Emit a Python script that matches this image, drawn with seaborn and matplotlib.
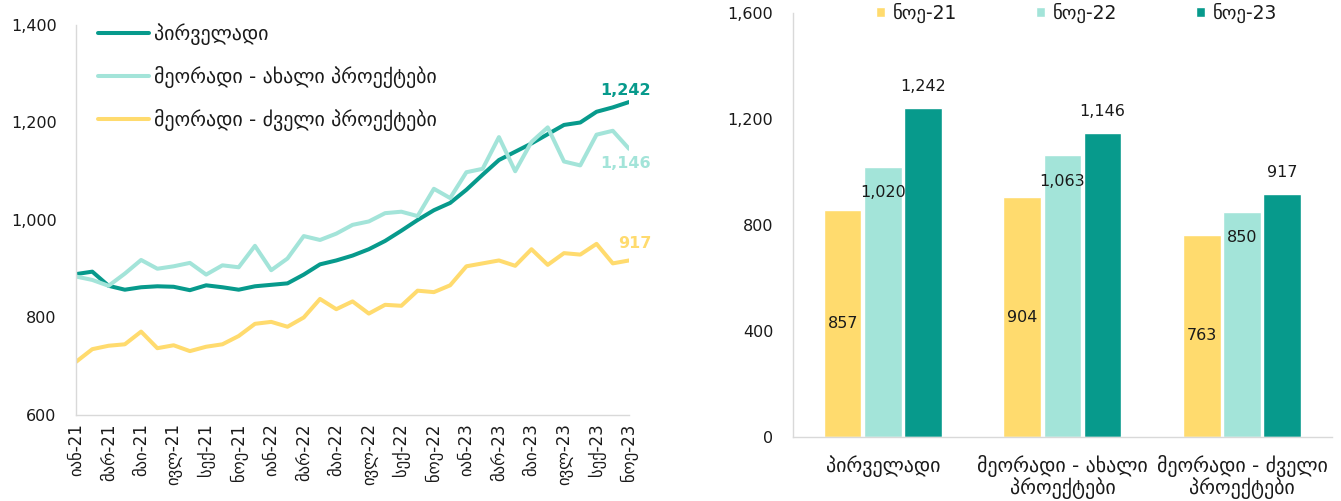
import pandas as pd
import matplotlib
matplotlib.use('Agg')
import matplotlib.pyplot as plt
import matplotlib.ticker as mticker
import seaborn as sns

# monthly prices, Jan-21 .. Nov-23
month_names = ['იან', 'თებ', 'მარ', 'აპრ', 'მაი', 'ივნ', 'ივლ', 'აგვ', 'სექ', 'ოქტ', 'ნოე', 'დეკ']
years = ['21', '22', '23']
months = [f'{m}-{y}' for y in years for m in month_names][:35]

primary = [889, 894, 865, 857, 862, 864, 863, 856, 866, 862, 857, 864, 867, 870, 888, 909, 917, 927,
           940, 957, 978, 1000, 1020, 1035, 1062, 1093, 1123, 1140, 1157, 1176, 1195, 1200, 1222, 1231, 1242]
secondary_new = [884, 877, 865, 890, 918, 900, 905, 912, 888, 907, 903, 947, 897, 921, 967, 959, 972, 990,
                 997, 1014, 1017, 1008, 1064, 1045, 1098, 1105, 1170, 1100, 1160, 1190, 1120, 1112, 1175, 1183, 1146]
secondary_old = [709, 735, 742, 745, 771, 737, 743, 731, 740, 745, 762, 787, 791, 781, 800, 838, 817, 833,
                 808, 826, 824, 855, 852, 866, 905, 911, 917, 906, 940, 908, 932, 929, 951, 911, 917]

series_names = ['პირველადი', 'მეორადი - ახალი პროექტები', 'მეორადი - ძველი პროექტები']

# November comparison
bar_categories = ['პირველადი', 'მეორადი - ახალი\nპროექტები', 'მეორადი - ძველი\nპროექტები']
bar_periods = ['ნოე-21', 'ნოე-22', 'ნოე-23']
nov_21 = [857, 904, 763]
nov_22 = [1020, 1063, 850]
nov_23 = [1242, 1146, 917]

dark = '#079a8c'
light = '#a3e4d9'
yellow = '#ffdb6e'
grey = '#d9d9d9'

sns.set_theme(style='white')
plt.rcParams['font.family'] = ['DejaVu Sans']
plt.rcParams['font.size'] = 11.5
plt.rcParams['text.color'] = '#1a1a1a'
plt.rcParams['xtick.color'] = '#1a1a1a'
plt.rcParams['ytick.color'] = '#1a1a1a'

geo_size = 14.3  # Georgian glyphs in DejaVu run small, so bump those texts

lines_df = pd.DataFrame({
    'idx': list(range(len(months))) * 3,
    'value': primary + secondary_new + secondary_old,
    'series': [s for s in series_names for _ in months],
})

bars_df = pd.DataFrame({
    'category': bar_categories * 3,
    'period': [p for p in bar_periods for _ in bar_categories],
    'value': nov_21 + nov_22 + nov_23,
})

fig = plt.figure(figsize=(13.41, 5.01), dpi=100)
ax1 = fig.add_axes([0.0567, 0.1717, 0.4124, 0.7784])
ax2 = fig.add_axes([0.5913, 0.1277, 0.4019, 0.8463])

# ---- left: line chart
sns.lineplot(data=lines_df, x='idx', y='value', hue='series', hue_order=series_names,
             palette=[dark, light, yellow], linewidth=2.9, ax=ax1)
ax1.set_xlim(0, len(months) - 1)
ax1.set_ylim(600, 1400)
ax1.set_yticks(range(600, 1401, 200))
ax1.yaxis.set_major_formatter(mticker.StrMethodFormatter('{x:,.0f}'))
ax1.set_xticks(range(0, len(months), 2))
ax1.set_xticklabels(months[::2], rotation=90)
ax1.set_xlabel('')
ax1.set_ylabel('')
ax1.tick_params(axis='y', length=0, pad=14, labelsize=11.5)
ax1.tick_params(axis='x', length=0, pad=6, labelsize=12)
for side in ['top', 'right']:
    ax1.spines[side].set_visible(False)
for side in ['left', 'bottom']:
    ax1.spines[side].set_color(grey)
    ax1.spines[side].set_linewidth(1)
ax1.legend(loc='upper left', bbox_to_anchor=(0.025, 1.025), frameon=False, fontsize=geo_size,
           handlelength=2.6, handletextpad=0.25, labelspacing=1.05, borderaxespad=0)

end_offsets = [(22, 12), (22, -15), (22, 17)]
for vals, col, off in zip([primary, secondary_new, secondary_old], [dark, light, yellow], end_offsets):
    ax1.annotate(f'{vals[-1]:,}', xy=(len(vals) - 1, vals[-1]), xytext=off,
                 textcoords='offset pixels', ha='right', va='center',
                 color=col, fontweight='bold', fontsize=11.5, annotation_clip=False)

# ---- right: bar chart
sns.barplot(data=bars_df, x='category', y='value', hue='period', hue_order=bar_periods,
            palette=[yellow, light, dark], width=0.67, gap=0.06, saturation=1, ax=ax2)
ax2.set_xlim(-0.5, 2.5)
ax2.set_ylim(0, 1600)
ax2.set_yticks(range(0, 1601, 400))
ax2.yaxis.set_major_formatter(mticker.StrMethodFormatter('{x:,.0f}'))
ax2.set_xlabel('')
ax2.set_ylabel('')
ax2.tick_params(axis='y', length=0, pad=14, labelsize=11.5)
ax2.tick_params(axis='x', length=0, pad=13, labelsize=geo_size)
for lbl in ax2.get_xticklabels():
    lbl.set_linespacing(1.0)
for side in ['top', 'right']:
    ax2.spines[side].set_visible(False)
for side in ['left', 'bottom']:
    ax2.spines[side].set_color(grey)
    ax2.spines[side].set_linewidth(1)

ax2.bar_label(ax2.containers[0], fmt='{:,.0f}', label_type='center', fontsize=11.5)
ax2.bar_label(ax2.containers[1], fmt='{:,.0f}', label_type='edge', padding=-24, fontsize=11.5)
ax2.bar_label(ax2.containers[2], fmt='{:,.0f}', label_type='edge', padding=10, fontsize=11.5)

ax2.legend(loc='center', bbox_to_anchor=(0.527, 1.0), ncol=3, frameon=False, fontsize=13.5,
           handlelength=0.45, handleheight=0.45, handletextpad=0.45, columnspacing=4.2,
           borderaxespad=0)

fig.savefig('out.png', dpi=100)
